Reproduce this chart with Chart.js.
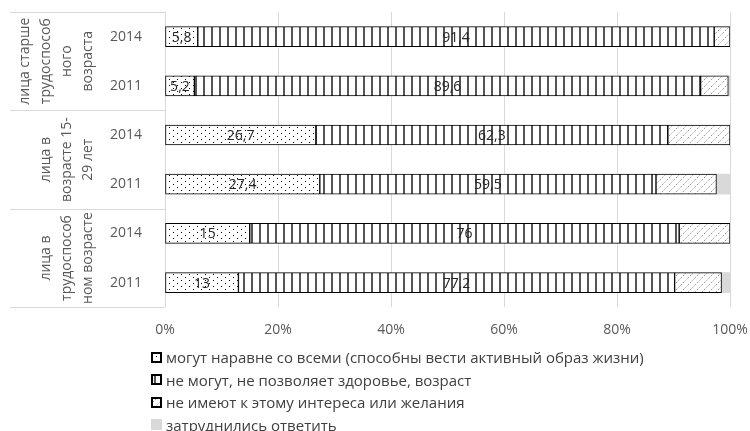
<!DOCTYPE html>
<html lang="ru">
<head>
  <meta charset="UTF-8" />
  <title>Оценка возможностей</title>
  <script src="https://cdn.jsdelivr.net/npm/chart.js"></script>
  <style>
    body {
      margin: 0;
      background: #fff;
      font-family: "Open Sans", sans-serif;
    }
    .wrap {
      position: relative;
      width: 750px;
      height: 431px;
    }
    #legend {
      position: absolute;
      left: 151px;
      top: 346px;
      font-size: 15px;
      color: #404040;
    }
    #legend div {
      display: flex;
      align-items: center;
      height: 22.5px;
    }
    #legend canvas {
      margin-right: 4px;
    }
  </style>
</head>
<body>
  <div class="wrap">
    <canvas id="chart" width="750" height="357"></canvas>
    <div id="legend"></div>
  </div>
  <script>
    // rows from top to bottom
    const years = ['2014', '2011', '2014', '2011', '2014', '2011'];
    const groupLines = [
      ['лица старше', 'трудоспособ', 'ного', 'возраста'],
      ['лица в', 'возрасте 15-', '29 лет'],
      ['лица в', 'трудоспособ', 'ном возрасте']
    ];
    const seriesNames = [
      'могут наравне со всеми (способны вести активный образ жизни)',
      'не могут, не позволяет здоровье, возраст',
      'не имеют к этому интереса или желания',
      'затруднились ответить'
    ];
    const canDo = [5.8, 5.2, 26.7, 27.4, 15, 13];
    const cannot = [91.4, 89.6, 62.3, 59.5, 76, 77.2];
    const noInterest = [2.8, 4.9, 11, 10.7, 9, 8.3];
    const hardToSay = [0, 0.3, 0, 2.4, 0, 1.5];
    const xTicks = [0, 20, 40, 60, 80, 100];

    const FONT = '"Open Sans", sans-serif';
    const TEXT = '#595959';

    // pattern tiles
    function tile(w, h, draw) {
      const c = document.createElement('canvas');
      c.width = w; c.height = h;
      draw(c.getContext('2d'));
      return c;
    }
    const ctx = document.getElementById('chart').getContext('2d');
    function pattern(kind) {
      let t;
      if (kind === 'dots') {
        t = tile(8, 6, g => {
          g.fillStyle = '#fff'; g.fillRect(0, 0, 8, 6);
          g.fillStyle = '#000';
          g.fillRect(1, 1, 1, 1);
          g.fillRect(5, 4, 1, 1);
        });
      } else if (kind === 'vlines') {
        t = tile(8, 8, g => {
          g.fillStyle = '#fff'; g.fillRect(0, 0, 8, 8);
          g.fillStyle = '#555';
          g.fillRect(3, 0, 2, 8);
        });
      } else {
        t = tile(7, 7, g => {
          g.fillStyle = '#fff'; g.fillRect(0, 0, 7, 7);
          g.strokeStyle = '#999';
          g.lineWidth = 1;
          g.setLineDash([2, 1.5]);
          g.beginPath();
          g.moveTo(-1, 8); g.lineTo(8, -1);
          g.stroke();
        });
      }
      return ctx.createPattern(t, 'repeat');
    }
    const fills = [pattern('dots'), pattern('vlines'), pattern('diag'), '#d9d9d9'];
    const borders = ['#000', '#000', '#000', null];

    // value labels for the first two series
    const valueLabels = {
      id: 'valueLabels',
      afterDatasetsDraw(chart) {
        const c = chart.ctx;
        c.save();
        c.font = '14px ' + FONT;
        c.fillStyle = '#262626';
        c.textAlign = 'center';
        c.textBaseline = 'middle';
        [0, 1].forEach(di => {
          const meta = chart.getDatasetMeta(di);
          meta.data.forEach((el, i) => {
            const v = chart.data.datasets[di].data[i];
            c.fillText(String(v).replace('.', ','), (el.x + el.base) / 2, el.y + 1);
          });
        });
        c.restore();
      }
    };

    // two-level category axis: group separators and rotated group names
    const groupAxis = {
      id: 'groupAxis',
      afterDraw(chart) {
        const c = chart.ctx;
        const y = chart.scales.y;
        const area = chart.chartArea;
        const bounds = [area.top];
        for (let g = 1; g < groupLines.length; g++) {
          bounds.push((y.getPixelForValue(g * 2 - 1) + y.getPixelForValue(g * 2)) / 2);
        }
        bounds.push(area.bottom);
        c.save();
        c.strokeStyle = '#d9d9d9';
        c.lineWidth = 1;
        bounds.forEach(b => {
          c.beginPath();
          c.moveTo(10, Math.round(b) + 0.5);
          c.lineTo(area.left, Math.round(b) + 0.5);
          c.stroke();
        });
        c.font = '14px ' + FONT;
        c.fillStyle = TEXT;
        c.textAlign = 'center';
        c.textBaseline = 'middle';
        groupLines.forEach((lines, g) => {
          const cy = (y.getPixelForValue(g * 2) + y.getPixelForValue(g * 2 + 1)) / 2;
          lines.forEach((txt, k) => {
            const x = 88 - (lines.length - 1 - k) * 21;
            c.save();
            c.translate(x, cy);
            c.rotate(-Math.PI / 2);
            c.fillText(txt, 0, 0);
            c.restore();
          });
        });
        c.restore();
      }
    };

    const values = [canDo, cannot, noInterest, hardToSay];

    new Chart(ctx, {
      type: 'bar',
      data: {
        labels: years,
        datasets: values.map((d, i) => ({
          label: seriesNames[i],
          data: d,
          backgroundColor: fills[i],
          borderColor: borders[i] || 'transparent',
          borderWidth: borders[i] ? 1 : 0,
          borderSkipped: false,
          barThickness: 20
        }))
      },
      options: {
        indexAxis: 'y',
        responsive: false,
        animation: false,
        layout: { padding: { top: 12, right: 0, bottom: 5, left: 0 } },
        scales: {
          x: {
            stacked: true,
            min: 0,
            max: 100,
            afterBuildTicks: s => { s.ticks = xTicks.map(v => ({ value: v })); },
            afterFit: s => { s.paddingLeft = 0; s.paddingRight = 20; },
            ticks: {
              callback: v => v + '%',
              color: TEXT,
              font: { family: FONT, size: 14 },
              padding: 14
            },
            grid: { color: '#d9d9d9', drawTicks: false },
            border: { display: false }
          },
          y: {
            stacked: true,
            afterFit: s => { s.width = 165; s.paddingTop = 0; s.paddingBottom = 0; },
            ticks: {
              color: TEXT,
              font: { family: FONT, size: 14 },
              padding: 15
            },
            grid: { display: false },
            border: { display: false }
          }
        },
        plugins: {
          legend: { display: false },
          tooltip: { enabled: false }
        }
      },
      plugins: [valueLabels, groupAxis]
    });

    // legend, one entry per line
    const legend = document.getElementById('legend');
    seriesNames.forEach((name, i) => {
      const row = document.createElement('div');
      const sw = document.createElement('canvas');
      sw.width = 11; sw.height = 11;
      const g = sw.getContext('2d');
      g.fillStyle = fills[i];
      g.fillRect(0, 0, 11, 11);
      if (borders[i]) {
        g.strokeStyle = borders[i];
        g.lineWidth = 2;
        g.strokeRect(1, 1, 9, 9);
      }
      row.appendChild(sw);
      const span = document.createElement('span');
      span.textContent = name;
      row.appendChild(span);
      legend.appendChild(row);
    });
  </script>
</body>
</html>
